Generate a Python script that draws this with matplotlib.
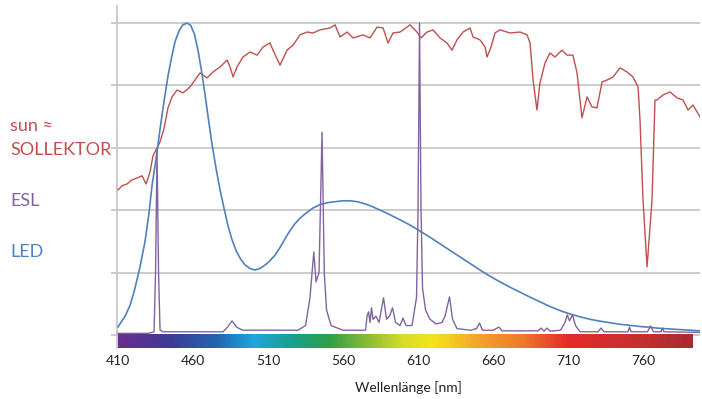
import numpy as np
import matplotlib
matplotlib.use("Agg")
import matplotlib.pyplot as plt
from matplotlib.colors import LinearSegmentedColormap

plt.rcParams['font.family'] = ['Lato', 'DejaVu Sans']

# LED spectrum (wavelength nm, relative intensity, top gridline = 100)
led_nm = [410, 414.7, 418, 421, 424.5, 428, 430.5, 432.7, 435.5, 438, 440.7, 443.3, 445.7,
          448, 450.5, 453, 456, 458.5, 461, 463.3, 465.7, 468, 470.3, 472.7, 475.3, 478,
          480.7, 483.3, 486, 488.7, 491.7, 494.7, 498, 501.3, 504.7, 508, 511.3, 514.7,
          518, 521.3, 524.7, 528, 531.3, 534.7, 539.7, 544.7, 549.7, 554.7, 559.7, 564.7,
          569.7, 574.7, 579.7, 584.7, 589.7, 594.7, 599.7, 604.7, 611.3, 618, 624.7,
          631.3, 638, 644.7, 651.3, 658, 664.7, 671.3, 678, 684.7, 691.3, 698, 704.7,
          711.3, 718, 724.7, 731.3, 744.7, 758, 771.3, 784.7, 798]
led_val = [2.6, 6, 9.5, 14.4, 21.5, 30, 38.5, 48, 57, 66, 75, 83, 89,
           94, 97.3, 99.3, 100, 99.2, 96.3, 91.3, 84.5, 77, 69, 61, 53.5, 46.5,
           40.5, 35, 30.5, 27, 24.3, 22.4, 21.3, 20.8, 21.3, 22.4, 23.8, 25.6,
           28, 30.8, 33.5, 35.7, 37.4, 38.8, 40.6, 41.8, 42.4, 42.7, 43, 43,
           42.7, 42, 41.1, 40, 38.9, 37.7, 36.5, 35.2, 33.3, 31.3, 29.2,
           27.1, 25, 22.9, 20.8, 18.8, 17, 15.3, 13.7, 12.1, 10.6, 9.1, 7.8,
           6.7, 5.8, 5, 4.4, 3.4, 2.7, 2.1, 1.7, 1.3]

# sun spectrum
sun_nm = [410, 412.7, 416, 419.3, 422.7, 426, 428.7, 431.3, 433.3, 435.3, 438, 440.7,
          443.3, 446, 449.3, 453.3, 458, 462.7, 464.7, 469.3, 473.3, 478, 482.7, 484.7,
          486.7, 489.3, 493.3, 498, 502.7, 506.7, 511.3, 513.3, 518, 522.7, 526.7, 531.3,
          536, 540, 544.7, 551.3, 554.7, 558, 562.7, 566.7, 573.3, 578, 582.7, 586.7,
          590, 593.3, 598, 604.7, 609.3, 612, 616, 620, 624.7, 629.3, 632.7, 636, 640,
          644.7, 646.7, 651.3, 654.7, 656, 658.7, 661.3, 664.7, 671.3, 678, 682.7, 684.7,
          686.7, 689.3, 691.3, 694.7, 698, 701.3, 706, 709.3, 713.3, 716, 719.3, 722.7,
          726, 729.3, 732.7, 736, 740, 744.7, 749.3, 753.3, 756.7, 758, 760, 762.7, 766,
          768, 769.3, 773.3, 778, 782.7, 786.7, 790, 793.3, 798]
sun_val = [46.5, 47.8, 48.4, 49.7, 50.3, 51, 48.4, 52.2, 57.4, 59.3, 61.9, 66.3,
           72.8, 76.3, 78.5, 77.6, 79.5, 82.7, 84, 82.4, 84.3, 85.9, 88.1, 85.9,
           82.7, 85.9, 89.1, 90.7, 89.7, 92.3, 93.6, 91.3, 86.5, 91.3, 92.9, 96.2,
           97.1, 96.8, 97.8, 98.4, 99.4, 95.5, 97.1, 95.2, 96.2, 95.2, 98.7, 98.4,
           93.6, 96.8, 97.1, 99.4, 97.1, 95.2, 97.1, 97.8, 95.2, 93.6, 91.3, 94.6, 97.1,
           98.4, 95.5, 94.6, 92.3, 89.1, 92.3, 96.8, 97.8, 96.8, 97.1, 96.2, 93.6,
           81.7, 72.1, 80.8, 87.2, 90.4, 89.1, 91.3, 89.7, 89.7, 84, 69.6, 76.3,
           73.1, 72.8, 81.1, 81.7, 82.7, 85.6, 84.3, 82.7, 79.5, 68.9, 43.3, 21.8, 43.3,
           75.3, 75.3, 76.9, 77.9, 76, 75.3, 72.1, 73.7, 69.9]

# ESL (compact fluorescent) spectrum
esl_nm = [410, 430, 434, 435, 436, 437, 438, 440, 480, 483, 486, 489, 493, 530, 535,
          538, 540.5, 542, 544, 546, 547.5, 549, 552, 560, 575, 576, 577, 578, 579,
          580, 582, 584, 587, 589, 591, 593, 595, 598, 600, 602, 606, 609, 610, 611,
          612, 613, 615, 618, 622, 626, 628, 631, 633, 636, 645, 649, 651, 653, 660,
          664, 666, 690, 692, 694, 696, 698, 705, 708, 709.5, 711, 713, 715, 718,
          730, 732, 734, 750, 751, 752, 763, 765, 767, 772, 773, 774, 798]
esl_val = [0.5, 0.5, 1.0, 20, 59.3, 20, 1.5, 1, 1, 2.5, 4.5, 2.5, 1.5, 1.5, 3,
           12, 26.6, 17, 20, 65, 20, 8, 3, 1.5, 1.5, 6, 7.4, 4, 8.7,
           5, 6, 4, 11.9, 5, 6, 8.7, 4, 3, 5.4, 3, 3, 12, 40, 100,
           40, 15, 8, 5, 3.5, 4, 6, 12.2, 5, 2, 1.5, 2, 3.8, 1.5, 1.5,
           2.5, 1.3, 1.3, 2.2, 1.2, 2.2, 1.2, 1.5, 4, 6.4, 4.5, 6.4, 3, 1,
           1, 2.2, 1, 1, 2.5, 1, 1, 2.9, 1, 1, 2.2, 1, 0.8]

# visible spectrum colour bar
bar_nm = [410, 445, 475, 500, 525, 550, 575, 600, 620, 650, 680, 710, 760, 793]
bar_colors = ['#6b2d8e', '#3b3c96', '#2266b0', '#1fa6dc', '#17a090', '#2e9e48', '#86bb35',
              '#d8dc2a', '#f5e41e', '#f2a52a', '#ee7a2a', '#e42a2a', '#c53030', '#a82a30']

xticks = [410, 460, 510, 560, 610, 660, 710, 760]

SUN_C = '#C0504D'
ESL_C = '#8064A2'
LED_C = '#4F81BD'

fig = plt.figure(figsize=(7.02, 3.99), dpi=100)
ax = fig.add_axes([117 / 702, 1 - 348 / 399, (700 - 117) / 702, (348 - 6) / 399])

for v in [0, 20, 40, 60, 80, 100]:
    ax.axhline(v, color='#c8c8c8', lw=1.3, zorder=0)

pos = [(n - bar_nm[0]) / (bar_nm[-1] - bar_nm[0]) for n in bar_nm]
cmap = LinearSegmentedColormap.from_list('vis', list(zip(pos, bar_colors)))
ax.imshow(np.linspace(0, 1, 400)[None, :], cmap=cmap, aspect='auto',
          extent=[bar_nm[0], bar_nm[-1], -4.2, 0], zorder=1)

ax.plot(sun_nm, sun_val, color=SUN_C, lw=1.0, zorder=3)
ax.plot(led_nm, led_val, color=LED_C, lw=1.2, zorder=4)
ax.plot(esl_nm, esl_val, color=ESL_C, lw=1.0, zorder=5)

ax.set_xlim(409.3, 798)
ax.set_ylim(-4.2, 100 + 17 / 3.12)
ax.set_xticks(xticks)
ax.set_xticklabels([str(t) for t in xticks], fontsize=10, color='#222222')
ax.tick_params(axis='x', length=0, pad=5)
ax.set_yticks([0, 20, 40, 60, 80, 100])
ax.set_yticklabels([])
ax.tick_params(axis='y', length=4, color='#c8c8c8', width=1.3)
for s in ['top', 'right', 'bottom']:
    ax.spines[s].set_visible(False)
ax.spines['left'].set_color('#c8c8c8')
ax.spines['left'].set_linewidth(1.3)
ax.set_xlabel('Wellenlänge [nm]', fontsize=10, color='#222222', labelpad=10)

fig.text(10 / 702, 1 - 126 / 399, 'sun ≈', color=SUN_C, fontsize=13, va='center', ha='left')
fig.text(10 / 702, 1 - 150 / 399, 'SOLLEKTOR', color=SUN_C, fontsize=13, va='center', ha='left')
fig.text(10 / 702, 1 - 201 / 399, 'ESL', color=ESL_C, fontsize=13, va='center', ha='left')
fig.text(10 / 702, 1 - 252 / 399, 'LED', color=LED_C, fontsize=13, va='center', ha='left')

fig.savefig('out.png', dpi=100)
